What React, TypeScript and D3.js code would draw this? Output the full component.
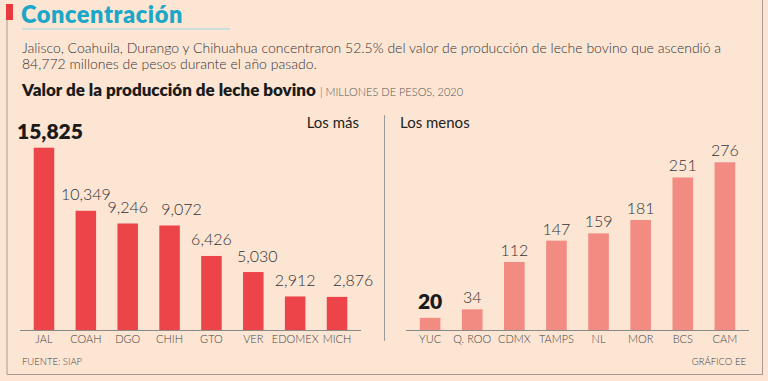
import React from "react";
import * as d3 from "d3";

const masCategories = ["JAL", "COAH", "DGO", "CHIH", "GTO", "VER", "EDOMEX", "MICH"];
const masValues = [15825, 10349, 9246, 9072, 6426, 5030, 2912, 2876];
const menosCategories = ["YUC", "Q. ROO", "CDMX", "TAMPS", "NL", "MOR", "BCS", "CAM"];
const menosValues = [20, 34, 112, 147, 159, 181, 251, 276];

const W = 768;
const H = 381;
const BG = "#fde5d3";
const FONT = "Lato, 'Open Sans', 'DejaVu Sans', sans-serif";
const fmt = d3.format(",");

function Panel({ cats, vals, x0, x1, yTop, color, labelGap, boldFirst, boldMax, nudge }: any) {
  const x = d3.scaleBand<string>().domain(cats).range([x0, x1]).paddingInner(0.51).paddingOuter(0.28);
  const maxV = d3.max(vals as number[]) as number;
  const y = d3.scaleLinear().domain([0, maxV]).range([330, yTop]);
  return (
    <g>
      {cats.map((c: string, i: number) => {
        const v = vals[i];
        const bx = x(c)!;
        const cx = bx + x.bandwidth() / 2;
        const bold = (boldMax && v === maxV) || (boldFirst && i === 0);
        return (
          <g key={c}>
            <rect x={bx} y={y(v)} width={x.bandwidth()} height={330 - y(v)} fill={color} />
            <text
              x={cx + (bold && boldMax ? 6 : 0) + (nudge ? nudge[i] : 0)}
              y={y(v) - (bold ? 9 : labelGap)}
              textAnchor="middle"
              fontSize={bold ? 21 : 16}
              fontWeight={bold ? 800 : 300}
              fill={bold ? "#1a1a1a" : "#333"}
              fontFamily={FONT}
            >
              {fmt(v)}
            </text>
            <text x={cx} y={343} textAnchor="middle" fontSize={11} fontWeight={300} fill="#444" fontFamily={FONT}>
              {c}
            </text>
          </g>
        );
      })}
      <line x1={x0 - 2} x2={x1 + 2} y1={330.5} y2={330.5} stroke="#8a8a8a" strokeWidth={1} />
    </g>
  );
}

const masNudge = [0, 0, 0, 12, 0, 4, 0, 16];

export default function App() {
  return (
    <svg width={W} height={H} style={{ position: "absolute", left: 0, top: 0, display: "block" }}>
      <rect x={0} y={0} width={W} height={H} fill={BG} />
      {/* frame */}
      <line x1={7} x2={7} y1={19} y2={374.5} stroke="#a89a92" strokeWidth={1} />
      <line x1={7} x2={763} y1={374.5} y2={374.5} stroke="#a89a92" strokeWidth={1} />
      <line x1={762.5} x2={762.5} y1={0} y2={374.5} stroke="#a89a92" strokeWidth={1} />
      <rect x={6} y={4} width={7} height={16} fill="#e8393f" />
      {/* title */}
      <text x={21} y={23} fontSize={23.5} fontWeight={800} letterSpacing={0.6} fill="#1aa7c8" fontFamily={FONT}>
        Concentración
      </text>
      <line x1={22} x2={230} y1={29} y2={29} stroke="#9fd3e3" strokeWidth={1} />
      <text x={22} y={53} fontSize={14} fontWeight={300} fill="#333" fontFamily={FONT}>
        Jalisco, Coahuila, Durango y Chihuahua concentraron 52.5% del valor de producción de leche bovino que ascendió a
      </text>
      <text x={22} y={69} fontSize={14} fontWeight={300} fill="#333" fontFamily={FONT}>
        84,772 millones de pesos durante el año pasado.
      </text>
      <text x={22} y={96} fontFamily={FONT} fill="#1a1a1a">
        <tspan fontSize={17} fontWeight={800}>Valor de la producción de leche bovino</tspan>
        <tspan fontSize={11} fontWeight={300} fill="#555" dx={4}>| MILLONES DE PESOS, 2020</tspan>
      </text>
      {/* panel labels */}
      <text x={359} y={128} textAnchor="end" fontSize={15} fontWeight={400} fill="#222" fontFamily={FONT}>
        Los más
      </text>
      <text x={400} y={128} fontSize={15} fontWeight={400} fill="#222" fontFamily={FONT}>
        Los menos
      </text>
      <line x1={384.5} x2={384.5} y1={115} y2={341} stroke="#9a9a9a" strokeWidth={1} />
      <Panel cats={masCategories} vals={masValues} x0={22} x1={359} yTop={147.7} color="#ec4448" labelGap={10.5} boldMax={true} boldFirst={false} nudge={masNudge} />
      <Panel cats={menosCategories} vals={menosValues} x0={408} x1={747} yTop={162.3} color="#f28b81" labelGap={6} boldMax={false} boldFirst={true} nudge={null} />
      <text x={22} y={365} fontSize={9.5} fontWeight={300} fill="#444" fontFamily={FONT}>
        FUENTE: SIAP
      </text>
      <text x={746} y={365} textAnchor="end" fontSize={9.5} fontWeight={300} fill="#444" fontFamily={FONT}>
        GRÁFICO EE
      </text>
    </svg>
  );
}
